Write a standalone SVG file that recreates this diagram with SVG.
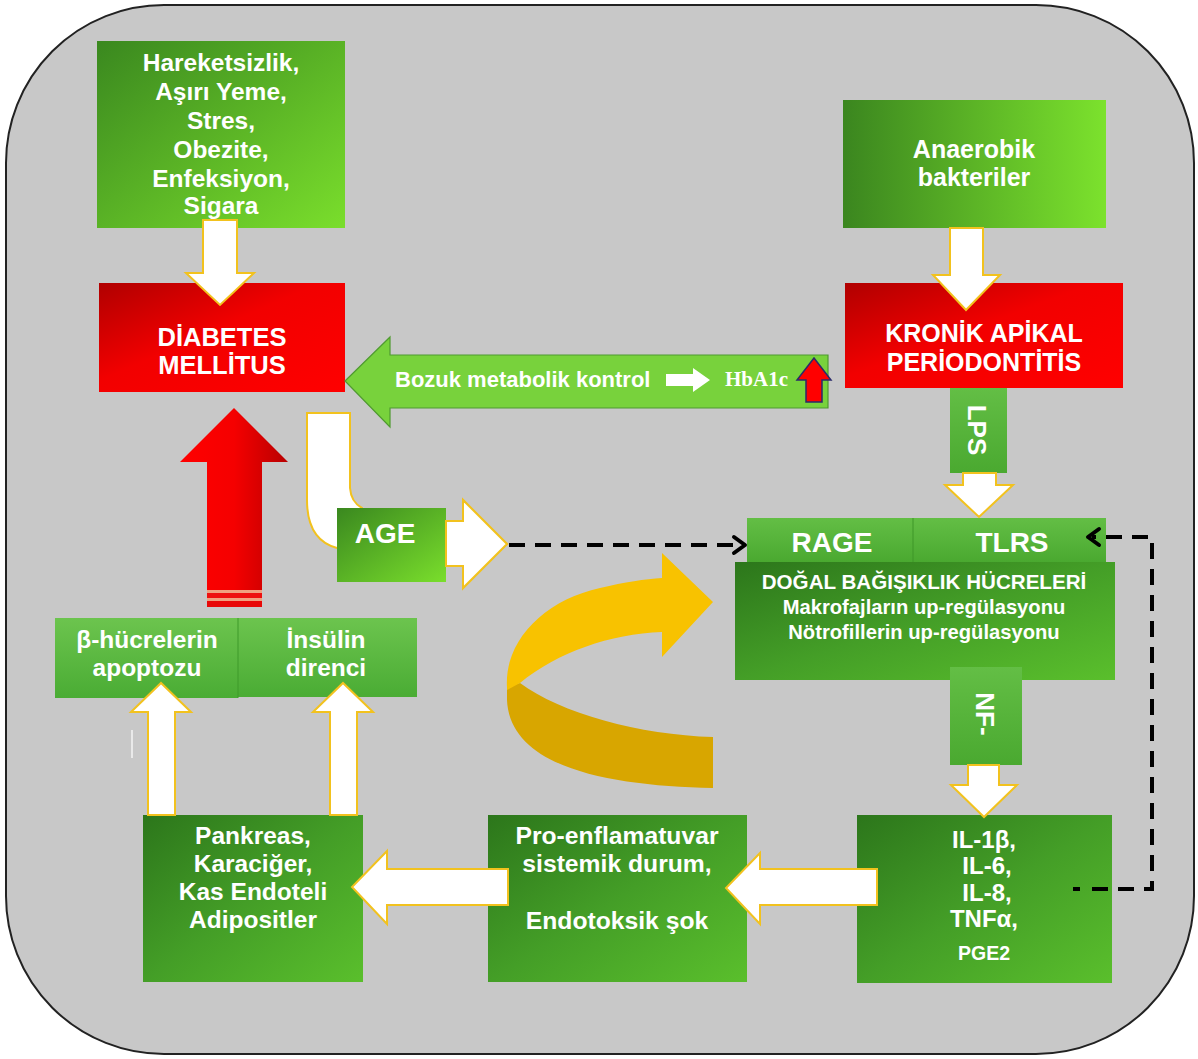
<svg xmlns="http://www.w3.org/2000/svg" width="1198" height="1059" viewBox="0 0 1198 1059">
<defs>
<linearGradient id="gTop" x1="0" y1="0" x2="1" y2="1"><stop offset="0" stop-color="#3a881f"/><stop offset="1" stop-color="#7ade2c"/></linearGradient>
<linearGradient id="gHoriz" x1="0" y1="0" x2="1" y2="0"><stop offset="0" stop-color="#3b861f"/><stop offset="1" stop-color="#7ce22d"/></linearGradient>
<linearGradient id="gRed" x1="0" y1="0" x2="1" y2="1"><stop offset="0" stop-color="#b00000"/><stop offset="0.45" stop-color="#f20000"/><stop offset="1" stop-color="#ff0000"/></linearGradient>
<linearGradient id="gDark" x1="0" y1="0" x2="1" y2="1"><stop offset="0" stop-color="#2c761b"/><stop offset="0.5" stop-color="#449e27"/><stop offset="1" stop-color="#5abf2c"/></linearGradient>
<linearGradient id="gMid" x1="0" y1="0" x2="0" y2="1"><stop offset="0" stop-color="#6cc44e"/><stop offset="1" stop-color="#4aac34"/></linearGradient>
<linearGradient id="gBar" x1="0" y1="0" x2="0" y2="1"><stop offset="0" stop-color="#63be45"/><stop offset="1" stop-color="#4aa930"/></linearGradient>
<linearGradient id="gRedArrow" x1="0" y1="0" x2="1" y2="0"><stop offset="0" stop-color="#ff0000"/><stop offset="0.5" stop-color="#f50000"/><stop offset="1" stop-color="#b80000"/></linearGradient>
<style>
.t{font-family:"Liberation Sans",Arial,sans-serif;font-weight:bold;fill:#fff;text-anchor:middle}
.wa{fill:#fff;stroke:#f2c21e;stroke-width:2;stroke-linejoin:miter}
.dash{fill:none;stroke:#000;stroke-width:4;stroke-dasharray:16 10}
.chev{fill:none;stroke:#000;stroke-width:4;stroke-linecap:round;stroke-linejoin:round}
</style>
</defs>

<rect id="frame" x="6" y="5" width="1188" height="1049" rx="158" ry="158" fill="#c8c8c8" stroke="#222" stroke-width="2"/>

<g id="connectors-back">
  <!-- red up arrow -->
  <g id="redArrow">
    <polygon points="207,590 207,462 180,462 234,408 288,462 262,462 262,590" fill="url(#gRedArrow)"/>
    <rect x="207" y="590" width="55" height="3" fill="#f0a080"/>
    <rect x="207" y="593" width="55" height="5" fill="#ee1010"/>
    <rect x="207" y="598" width="55" height="3" fill="#f0a080"/>
    <rect x="207" y="601" width="55" height="6" fill="#e80808"/>
  </g>
  <!-- bent arrow DM -> AGE -->
  <path class="wa" d="M307,413 L350,413 L350,488 Q351,502 362,508 L362,548 L337,548 Q307,540 307,500 Z"/>
  <!-- AGE -> right (shaft behind AGE) -->
  <polygon class="wa" points="430,521 463,521 463,500 507,544 463,588 463,566 430,566"/>
  <!-- yellow circular arrow -->
  <g id="loopArrow">
    <path d="M507,687 L520,683 C560,713 640,735 713,737 L713,788 C610,786 510,768 507,700 Z" fill="#d8a600"/>
    <path d="M507,700 L507,688 C504,640 545,600 600,588 C625,582 645,579 662,578 L662,553 L713,602 L662,657 L662,632 C610,634 558,652 520,683 L507,690 Z" fill="#f8c200"/>
  </g>
  <line x1="132" y1="730" x2="132" y2="758" stroke="#f4f4f4" stroke-width="1.5"/>
</g>

<g id="n-risk">
  <rect x="97" y="41" width="248" height="187" fill="url(#gTop)"/>
  <text class="t" font-size="24.5" x="221" y="71">Hareketsizlik,</text>
  <text class="t" font-size="24.5" x="221" y="100">Aşırı Yeme,</text>
  <text class="t" font-size="24.5" x="221" y="129">Stres,</text>
  <text class="t" font-size="24.5" x="221" y="158">Obezite,</text>
  <text class="t" font-size="24.5" x="221" y="187">Enfeksiyon,</text>
  <text class="t" font-size="24.5" x="221" y="214">Sigara</text>
</g>

<g id="n-dm">
  <rect x="99" y="283" width="246" height="109" fill="url(#gRed)"/>
  <text class="t" font-size="25.5" x="222" y="346">DİABETES</text>
  <text class="t" font-size="25.5" x="222" y="374">MELLİTUS</text>
</g>

<g id="n-anaerobik">
  <rect x="843" y="100" width="263" height="128" fill="url(#gHoriz)"/>
  <text class="t" font-size="25" x="974" y="158">Anaerobik</text>
  <text class="t" font-size="25" x="974" y="186">bakteriler</text>
</g>

<g id="n-kap">
  <rect x="845" y="283" width="278" height="105" fill="url(#gRed)"/>
  <text class="t" font-size="25" x="984" y="342">KRONİK APİKAL</text>
  <text class="t" font-size="25" x="984" y="371">PERİODONTİTİS</text>
</g>

<g id="n-bozuk">
  <polygon points="345,381 390,337 390,355 828,355 828,408 390,408 390,427" fill="#78d23c" stroke="#4f9a30" stroke-width="1.2"/>
  <text class="t" font-size="22" x="395" y="387" style="text-anchor:start">Bozuk metabolik kontrol</text>
  <polygon points="666,374 693,374 693,368 710,380 693,392 693,386 666,386" fill="#fff"/>
  <text x="725" y="386" font-family="'Liberation Serif','Times New Roman',serif" font-weight="bold" font-size="21" fill="#fff">HbA1c</text>
  <polygon points="806,402 806,380 797,380 814,358 831,380 822,380 822,402" fill="#ff0000" stroke="#2a2a6a" stroke-width="1.5"/>
</g>

<g id="n-lps">
  <rect x="950" y="388" width="57" height="85" fill="url(#gBar)"/>
  <text class="t" font-size="26" transform="translate(977,430) rotate(90)" x="0" y="9">LPS</text>
</g>

<g id="n-receptors">
  <rect x="747" y="518" width="166" height="44" fill="url(#gBar)"/>
  <rect x="913" y="518" width="193" height="44" fill="url(#gBar)"/>
  <line x1="913" y1="518" x2="913" y2="562" stroke="#3f9628" stroke-width="1"/>
  <text class="t" font-size="28" x="832" y="552">RAGE</text>
  <text class="t" font-size="28" x="1012" y="552">TLRS</text>
</g>

<g id="n-immune">
  <rect x="735" y="562" width="380" height="118" fill="url(#gDark)"/>
  <text class="t" font-size="20.6" x="924" y="589">DOĞAL BAĞIŞIKLIK HÜCRELERİ</text>
  <text class="t" font-size="20.2" x="924" y="614">Makrofajların up-regülasyonu</text>
  <text class="t" font-size="20.2" x="924" y="639">Nötrofillerin up-regülasyonu</text>
</g>

<g id="n-nf">
  <rect x="950" y="667" width="72" height="98" fill="url(#gBar)"/>
  <text class="t" font-size="26" transform="translate(985,714) rotate(90)" x="0" y="9">NF-</text>
</g>

<g id="n-age">
  <rect x="337" y="508" width="109" height="74" fill="url(#gTop)"/>
  <text class="t" font-size="28" x="385" y="543">AGE</text>
</g>

<g id="n-beta">
  <rect x="55" y="618" width="183" height="80" fill="url(#gMid)"/>
  <text class="t" font-size="24.5" x="147" y="648">β-hücrelerin</text>
  <text class="t" font-size="24.5" x="147" y="676">apoptozu</text>
</g>

<g id="n-insulin">
  <rect x="238" y="618" width="179" height="79" fill="url(#gMid)"/>
  <line x1="238" y1="618" x2="238" y2="698" stroke="#3f9a2a" stroke-width="1"/>
  <text class="t" font-size="24.5" x="326" y="648">İnsülin</text>
  <text class="t" font-size="24.5" x="326" y="676">direnci</text>
</g>

<g id="n-pankreas">
  <rect x="143" y="815" width="220" height="167" fill="url(#gDark)"/>
  <text class="t" font-size="24.5" x="253" y="844">Pankreas,</text>
  <text class="t" font-size="24.5" x="253" y="872">Karaciğer,</text>
  <text class="t" font-size="24.5" x="253" y="900">Kas Endoteli</text>
  <text class="t" font-size="24.5" x="253" y="928">Adipositler</text>
</g>

<g id="n-pro">
  <rect x="488" y="815" width="259" height="167" fill="url(#gDark)"/>
  <text class="t" font-size="24.7" x="617" y="844">Pro-enflamatuvar</text>
  <text class="t" font-size="24.7" x="617" y="872">sistemik durum,</text>
  <text class="t" font-size="24.7" x="617" y="929">Endotoksik şok</text>
</g>

<g id="n-il">
  <rect x="857" y="815" width="255" height="168" fill="url(#gDark)"/>
  <text class="t" font-size="24" x="984" y="848">IL-1β,</text>
  <text class="t" font-size="24" x="987" y="874">IL-6,</text>
  <text class="t" font-size="24" x="987" y="901">IL-8,</text>
  <text class="t" font-size="24" x="984" y="927">TNFα,</text>
  <text class="t" font-size="19.5" x="984" y="960">PGE2</text>
</g>

<g id="connectors">
  <polygon class="wa" points="877,869 760,869 760,853 726,888 760,924 760,905 877,905"/>
  <polygon class="wa" points="508,869 387,869 387,851 352,887 387,924 387,905 508,905"/>
  <polygon class="wa" points="148,815 148,712 131,712 161,683 191,712 175,712 175,815"/>
  <polygon class="wa" points="330,815 330,712 313,712 343,683 373,712 357,712 357,815"/>
  <polygon class="wa" points="203,220 237,220 237,273 254,273 220,305 186,273 203,273"/>
  <polygon class="wa" points="950,228 983,228 983,275 1000,275 966,310 933,275 950,275"/>
  <polygon class="wa" points="963,473 996,473 996,485 1013,485 979,517 945,485 963,485"/>
  <polygon class="wa" points="968,765 999,765 999,785 1017,785 984,817 951,785 968,785"/>
  <polygon class="wa" points="446,521 463,521 463,500 507,544 463,588 463,566 446,566"/>
  <!-- dashed AGE -> RAGE -->
  <line class="dash" x1="509" y1="545" x2="738" y2="545"/>
  <polyline class="chev" points="734,537 745,545 734,553"/>
  <!-- dashed IL -> TLRS -->
  <rect x="1073" y="887" width="7" height="4" fill="#000"/>
  <path class="dash" d="M1092,889 L1152,889 L1152,537 L1092,537"/>
  <polyline class="chev" points="1099,529 1088,537 1099,545"/>
</g>
</svg>
